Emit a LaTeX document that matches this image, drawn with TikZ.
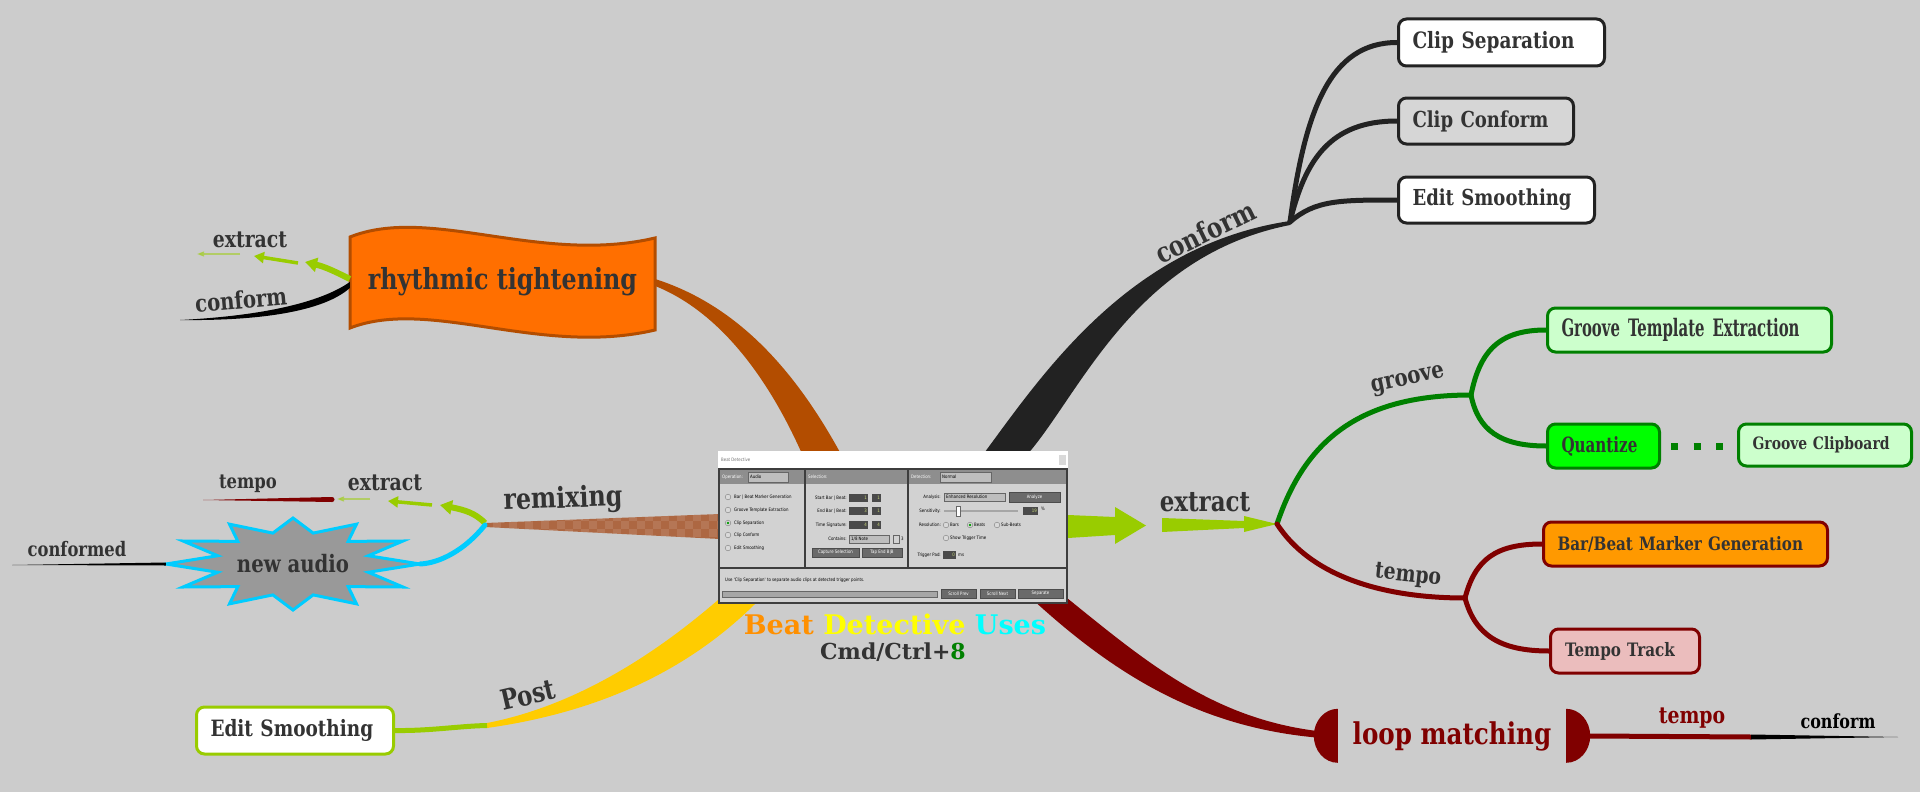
\documentclass[tikz,border=0pt]{standalone}
\usepackage{fontspec}
\setmainfont{DejaVu Serif}[FakeStretch=0.82]
\newfontfamily\cndfont{DejaVu Serif}[FakeStretch=0.62]
\newfontfamily\midfont{DejaVu Serif}[FakeStretch=0.72]
\newfontfamily\widefont{DejaVu Serif}
\newfontfamily\uifont{DejaVu Sans}[FakeStretch=0.85]
\usepackage{tikz}
\usetikzlibrary{shapes,positioning,arrows.meta}
\pgfdeclarelayer{back}
\pgfsetlayers{back,main}

\definecolor{bgray}{HTML}{CCCCCC}
\definecolor{txt}{HTML}{333333}
\definecolor{ink}{HTML}{222222}
\definecolor{rtorange}{HTML}{FF6F00}
\definecolor{rtedge}{HTML}{B34D00}
\definecolor{lime}{HTML}{99CC00}
\definecolor{grn}{HTML}{008000}
\definecolor{paleg}{HTML}{CCFFCC}
\definecolor{qgreen}{HTML}{00FF00}
\definecolor{maroon}{HTML}{800000}
\definecolor{bbm}{HTML}{FF9900}
\definecolor{pinkish}{HTML}{EBBDBD}
\definecolor{cyanb}{HTML}{00CCFF}
\definecolor{postyel}{HTML}{FFCC00}
\definecolor{remix}{HTML}{AD6742}
\definecolor{cconf}{HTML}{D6D6D6}
\definecolor{starfill}{HTML}{999999}
\definecolor{bdorange}{HTML}{FF9000}
\definecolor{bdyellow}{HTML}{FFFF00}
\definecolor{bdcyan}{HTML}{00FFFF}
\definecolor{frame}{HTML}{3E3E3E}
\definecolor{pane}{HTML}{D2D2D2}
\definecolor{hdr}{HTML}{8E8E8E}
\definecolor{drop}{HTML}{BEBEBE}
\definecolor{field}{HTML}{4A4A4A}
\definecolor{btn}{HTML}{6A6A6A}
\definecolor{fieldtxt}{HTML}{C8D878}

\tikzset{leaf/.style={rectangle,rounded corners=8pt,draw=ink,line width=3pt,fill=white,text=txt,align=left,inner xsep=14pt,inner ysep=0pt,anchor=west,font=\bfseries\fontsize{22}{26}\selectfont}}
\tikzset{gleaf/.style={leaf,draw=grn,fill=paleg,font=\bfseries\fontsize{17}{21}\selectfont}}
\tikzset{rleaf/.style={gleaf,draw=maroon,font=\bfseries\fontsize{18.5}{22}\selectfont}}
\tikzset{lbl/.style={text=txt,inner sep=0pt,font=\bfseries\fontsize{#1}{#1}\selectfont}}
\tikzset{twig/.style={line width=5pt,line cap=round}}
\tikzset{ui/.style={inner sep=0pt,text=black,font=\uifont\fontsize{4.6}{5}\selectfont}}

\begin{document}
\begin{tikzpicture}[x=1pt,y=-1pt,>={Triangle[length=12pt,width=14pt]}]
    \useasboundingbox (0,0) rectangle (1920,792);

    \node[lbl=29,minimum width=305pt,minimum height=92pt] (rt) at (502.5,282) {rhythmic tightening};
    \node[lbl=24,minimum width=254pt,minimum height=92pt] (na) at (293,564) {new audio};
    \node[lbl=30,text=maroon,minimum width=228pt,minimum height=54pt] (lm) at (1452,736) {loop matching};
    \node[inner sep=0pt,minimum width=350pt,minimum height=153pt] (bd) at (893,527.5) {};

    \node[leaf,font=\bfseries\fontsize{22.5}{26}\selectfont,text width=178pt,minimum height=47pt] (cs) at (1397,42.5) {Clip Separation};
    \node[leaf,fill=cconf,text width=147pt,minimum height=46pt] (cc) at (1397,121) {Clip Conform};
    \node[leaf,text width=168pt,minimum height=46pt] (esm) at (1397,200) {Edit Smoothing};
    \node[gleaf,font=\cndfont\bfseries\fontsize{24}{28}\selectfont,text width=256pt,minimum height=44pt] (gte) at (1546,330) {Groove Template Extraction};
    \node[gleaf,fill=qgreen,font=\midfont\bfseries\fontsize{21}{24}\selectfont,text width=84pt,minimum height=44pt] (qz) at (1546,446) {Quantize};
    \node[rleaf,fill=bbm,text width=256pt,minimum height=44pt] (bbg) at (1542,544) {Bar/Beat Marker Generation};
    \node[rleaf,fill=pinkish,text width=120pt,minimum height=44pt,inner xsep=14.5pt] (tt) at (1549,651) {Tempo Track};
    \node[leaf,draw=lime,font=\bfseries\fontsize{22.5}{26}\selectfont,text width=169pt,minimum height=47pt] (es) at (195,730.5) {Edit Smoothing};

    \coordinate (cf) at (1290,222);
    \coordinate (xf) at (1277,524);
    \coordinate (gf) at (1471,395);
    \coordinate (tf) at (1465,598);
    \coordinate (rf) at (485,525);
    \coordinate (pf) at (487,725.5);
    \coordinate (bdrt) at (822,456);
    \coordinate (bdcf) at (1004,456);
    \coordinate (bdlm) at (1049,598);
    \coordinate (bdpf) at (738,600);
    \coordinate (bdrf) at (720,526.5);
    \coordinate (bdxf) at (1068,526.5);

    \begin{pgfonlayer}{back}
    \fill[bgray] (0,0) rectangle (1920,792);
    \fill[rtedge] ([yshift=3pt]rt.east) .. controls (730,303) and (790,360) .. ([xshift=20pt]bdrt) -- ([xshift=-19pt]bdrt) .. controls (765,370) and (715,310) .. ([yshift=-4pt]rt.east) -- cycle;
    \fill[ink] ([xshift=-22pt]bdcf) .. controls (1042,375) and (1128,245) .. ([yshift=1pt]cf) -- ([yshift=-3pt]cf) .. controls (1133,256) and (1080,395) .. ([xshift=22pt]bdcf) -- cycle;
    \fill[maroon] ([xshift=18pt]bdlm) .. controls (1150,665) and (1220,725) .. ([yshift=3pt]lm.west) -- ([yshift=-3pt]lm.west) .. controls (1210,733) and (1120,680) .. ([xshift=-18pt]bdlm) -- cycle;
    \fill[postyel] ([xshift=-20pt]bdpf) .. controls (660,650) and (580,705) .. ([yshift=2.5pt]pf) -- ([yshift=-2.5pt]pf) .. controls (600,712) and (690,670) .. ([xshift=21pt]bdpf) -- cycle;
    \fill[remix] ([yshift=12.5pt]bdrf) -- ([yshift=2pt]rf) -- ([yshift=-2pt]rf) -- ([yshift=-12.5pt]bdrf) -- cycle;
    \begin{scope}
        \clip ([yshift=12.5pt]bdrf) -- ([yshift=2pt]rf) -- ([yshift=-2pt]rf) -- ([yshift=-12.5pt]bdrf) -- cycle;
        \foreach \i in {0,...,29} {
            \foreach \j in {0,1,2} {
                \pgfmathtruncatemacro\chk{mod(\i+\j,2)}
                \ifnum\chk=0 \fill[white,opacity=0.1] (485+8*\i,513+8*\j) rectangle ++(8,8); \fi
            }
        }
    \end{scope}
    \filldraw[fill=rtorange,draw=rtedge,line width=3pt] (350,237) .. controls (430,205) and (540,265) .. (655,238) -- (655,330) .. controls (540,357) and (430,297) .. (350,328) -- cycle;
    \filldraw[draw=cyanb,fill=starfill,line width=3pt] plot[samples at={0,...,23}] ({293+ifthenelse(mod(\x,2)==0,127,78)*cos(15*\x)},{564+ifthenelse(mod(\x,2)==0,46,32)*sin(15*\x)}) -- cycle;
    \fill[maroon] (lm.north west) arc[start angle=270,end angle=90,x radius=24,y radius=27] -- cycle;
    \fill[maroon] (lm.north east) arc[start angle=-90,end angle=90,x radius=24,y radius=27] -- cycle;
    \end{pgfonlayer}

    \fill[white] (718,451) rectangle (1068,468);
    \fill[black!15] (1059,455) rectangle (1066,465);
    \node[ui,text=black!55,anchor=west] (bdtitle) at (721,459.5) {Beat Detective};
    \fill[frame] (718,468) rectangle (1068,604);
    \foreach \xa/\xb in {720/804,806/907,909/1066} {
        \fill[pane] (\xa,470) rectangle (\xb,567);
        \fill[hdr] (\xa,470) rectangle (\xb,484);
    }
    \fill[pane] (720,569) rectangle (1066,602);
    \node[ui,text=white,anchor=west] (opl) at (722,477) {Operation:};
    \node[ui,text=white,anchor=west] (sell) at (808,477) {Selection:};
    \node[ui,text=white,anchor=west] (detl) at (911,477) {Detection:};
    \filldraw[fill=drop,draw=black!60,line width=0.4pt] (748,472) rectangle (788,482);
    \node[ui,anchor=west] (opv) at (750,477) {Audio};
    \filldraw[fill=drop,draw=black!60,line width=0.4pt] (940,472) rectangle (991,482);
    \node[ui,anchor=west] (detv) at (942,477) {Normal};
    \foreach \yy/\lab in {497/Bar | Beat Marker Generation,510/Groove Template Extraction,523/Clip Separation,535/Clip Conform,548/Edit Smoothing} {
        \draw[black!50,fill=white!85!black,line width=0.4pt] (728,\yy) circle[radius=2.8pt];
        \node[ui,anchor=west] at (734,\yy) {\lab};
    }
    \fill[green!60!black] (728,523) circle[radius=1.4pt];
    \foreach \yy/\lab/\va/\vb in {498/Start Bar | Beat:/1/1,511/End Bar | Beat:/3/1,525/Time Signature:/4/4} {
        \node[ui,anchor=east] at (847,\yy) {\lab};
        \fill[field] (849,\yy-4) rectangle (868,\yy+4);
        \fill[field] (872,\yy-4) rectangle (881,\yy+4);
        \node[ui,text=fieldtxt,anchor=east] at (867,\yy) {\va};
        \node[ui,text=fieldtxt,anchor=east] at (880,\yy) {\vb};
    }
    \node[ui,anchor=east] (cnt) at (847,539) {Contains:};
    \filldraw[fill=drop,draw=black!60,line width=0.4pt] (849,535) rectangle (889,543);
    \node[ui,anchor=west] (cntv) at (851,539) {1/8 Note};
    \draw[black!60,line width=0.4pt] (893,535) rectangle (899,543);
    \node[ui,anchor=west] (trip) at (901,539) {3};
    \foreach \xa/\xb/\lab in {812/859/Capture Selection,862/902/Tap End B|B} {
        \filldraw[fill=btn,draw=black!70,line width=0.4pt] (\xa,548) rectangle (\xb,557);
        \node[ui,text=white] at ({(\xa+\xb)/2},552.5) {\lab};
    }
    \node[ui,anchor=east] (anl) at (941,497) {Analysis:};
    \filldraw[fill=drop,draw=black!60,line width=0.4pt] (944,493) rectangle (1005,501);
    \node[ui,anchor=west] (anv) at (946,497) {Enhanced Resolution};
    \filldraw[fill=btn,draw=black!70,line width=0.4pt] (1009,492) rectangle (1060,502);
    \node[ui,text=white] (anb) at (1034.5,497) {Analyze};
    \node[ui,anchor=east] (sen) at (941,511) {Sensitivity:};
    \draw[black!35,line width=1.5pt] (944,511) -- (1018,511);
    \filldraw[fill=white,draw=black!60,line width=0.4pt] (956,506) rectangle (960,516);
    \fill[field] (1023,507) rectangle (1038,515);
    \node[ui,text=fieldtxt,anchor=east] (senv) at (1037,511) {19};
    \node[ui,anchor=west] (pct) at (1041,509) {\%};
    \node[ui,anchor=east] (res) at (941,525) {Resolution:};
    \foreach \xx/\lab in {946/Bars,970/Beats,997/Sub-Beats} {
        \draw[black!50,fill=white!85!black,line width=0.4pt] (\xx,525) circle[radius=2.8pt];
        \node[ui,anchor=west] at (\xx+4,525) {\lab};
    }
    \fill[green!60!black] (970,525) circle[radius=1.4pt];
    \draw[black!50,fill=white!85!black,line width=0.4pt] (946,538) circle[radius=2.8pt];
    \node[ui,anchor=west] (stt) at (950,538) {Show Trigger Time};
    \node[ui,anchor=east] (tpd) at (941,555) {Trigger Pad:};
    \fill[field] (943,551) rectangle (956,559);
    \node[ui,text=fieldtxt,anchor=east] (tpdv) at (955,555) {0};
    \node[ui,anchor=west] (ms) at (958,555) {ms};
    \node[ui,anchor=west] (hint) at (725,580) {Use 'Clip Separation' to separate audio clips at detected trigger points.};
    \filldraw[fill=black!35,draw=black!60,line width=0.4pt] (722,591) rectangle (937,597);
    \foreach \xa/\xb/\lab in {941/976/Scroll Prev,980/1015/Scroll Next,1018/1063/Separate} {
        \filldraw[fill=btn,draw=black!70,line width=0.4pt] (\xa,589) rectangle (\xb,598);
        \node[ui,text=white] at ({(\xa+\xb)/2},593.5) {\lab};
    }

    \node[inner sep=0pt,font=\widefont\bfseries\fontsize{27}{27}\selectfont] (bdu) at (895,624) {\textcolor{bdorange}{Beat} \textcolor{bdyellow}{Detective} \textcolor{bdcyan}{Uses}};
    \node[inner sep=0pt,text=txt,font=\widefont\bfseries\fontsize{22}{22}\selectfont] (cmd) at (893,652) {Cmd/Ctrl+\textcolor{grn}{8}};

    \fill[lime] (bdxf) ++(0,-11.5) -- (1115,517) -- (1115,507) -- (1146,525.5) -- (1115,544) -- (1115,535) -- (1068,538) -- cycle;
    \fill[lime] (1162,518) -- (1244,521) -- (1244,516) -- (xf) -- (1244,532) -- (1244,528) -- (1162,532) -- cycle;

    \draw[ink,twig] (cf) .. controls (1305,110) and (1330,42.5) .. (cs.west);
    \draw[ink,twig] (cf) .. controls (1305,160) and (1330,121) .. (cc.west);
    \draw[ink,twig] (cf) .. controls (1315,200) and (1340,200) .. (esm.west);
    \draw[grn,twig] (xf) .. controls (1305,440) and (1360,395) .. (gf);
    \draw[grn,twig] (gf) .. controls (1480,350) and (1500,330) .. (gte.west);
    \draw[grn,twig] (gf) .. controls (1478,430) and (1500,446) .. (qz.west);
    \draw[grn,line width=7pt,dash pattern=on 7pt off 15.5pt,dash phase=12.5pt] (qz.east) -- ++(80,0) coordinate (gcw);
    \node[gleaf,text width=145pt,minimum height=42pt] (gc) at (1737,445) {Groove Clipboard};
    \draw[maroon,twig] (xf) .. controls (1310,575) and (1380,598) .. (tf);
    \draw[maroon,twig] (tf) .. controls (1475,560) and (1495,544) .. (bbg.west);
    \draw[maroon,twig] (tf) .. controls (1475,635) and (1500,651) .. (tt.west);

    \coordinate (tmr) at (1751,737);
    \coordinate (cfr) at (1898,737);
    \draw[maroon,line width=5pt] ([xshift=24pt]lm.east) -- (tmr);
    \fill[black] ([yshift=2.5pt]tmr) -- (cfr) -- ([yshift=-2.5pt]tmr) -- cycle;

    \draw[lime,line width=5pt] (es.east) .. controls (430,731) and (460,726) .. (pf);

    \coordinate (rx1) at (305,262);
    \coordinate (rx2a) at (298,263);
    \coordinate (rx2) at (254,256);
    \coordinate (rx3a) at (240,254);
    \coordinate (rx3) at (197,254);
    \coordinate (clf) at (180,320);
    \draw[lime,line width=6pt,->] ([yshift=3pt]rt.west) .. controls (338,273) and (326,267) .. (rx1);
    \draw[lime,line width=3.5pt,->,>={Triangle[length=10pt,width=11pt]}] (rx2a) -- (rx2);
    \draw[lime,line width=1.2pt,opacity=0.5,->,>={Triangle[length=7pt,width=5pt]}] (rx3a) -- (rx3);
    \fill[black] (rt.west) .. controls (320,303) and (260,316) .. (clf) .. controls (262,321) and (324,311) .. ([yshift=-6pt]rt.west) -- cycle;

    \coordinate (mx1) at (440,505);
    \coordinate (mx2a) at (432,505);
    \coordinate (mx2) at (388,501);
    \coordinate (mx3a) at (370,499);
    \coordinate (mx3) at (337,499);
    \coordinate (tpr) at (332,499.5);
    \coordinate (tpl) at (203,500);
    \coordinate (cfd) at (12,565);
    \draw[lime,line width=6pt,->] ([yshift=2pt]rf) .. controls (475,513) and (465,510) .. (mx1);
    \draw[lime,line width=3.5pt,->,>={Triangle[length=10pt,width=11pt]}] (mx2a) -- (mx2);
    \draw[lime,line width=1.2pt,opacity=0.5,->,>={Triangle[length=7pt,width=5pt]}] (mx3a) -- (mx3);
    \fill[maroon] ([yshift=2.5pt]tpr) -- (tpl) -- ([yshift=-2.5pt]tpr) -- cycle;
    \fill[maroon] (tpr) circle[radius=2.5pt];
    \draw[cyanb,twig] (rf) .. controls (465,550) and (440,563) .. (na.east);
    \fill[black] ([yshift=1.5pt]na.west) -- (cfd) -- ([yshift=-1.5pt]na.west) -- cycle;

    \node[lbl=28,rotate=26] (lconf) at (1205,232) {conform};
    \node[lbl=28] (lext) at (1205,502) {extract};
    \node[lbl=24,rotate=12] (lgrv) at (1408,381) {groove};
    \node[lbl=23,rotate=-6] (ltmp) at (1408,576) {tempo};
    \node[lbl=29,rotate=2] (lrmx) at (563,500) {remixing};
    \node[lbl=28,rotate=13] (lpost) at (528,695) {Post};
    \node[lbl=23] (lext2) at (250,240) {extract};
    \node[lbl=24,rotate=5] (lconf2) at (241,300) {conform};
    \node[lbl=23] (lext3) at (385,483) {extract};
    \node[lbl=20] (ltmp2) at (248,484) {tempo};
    \node[lbl=20] (lcfd) at (77,549) {conformed};
    \node[lbl=23,text=maroon] (ltmp3) at (1692,718) {tempo};
    \node[lbl=19.5,text=black] (lconf3) at (1838,721) {conform};
\end{tikzpicture}
\end{document}
